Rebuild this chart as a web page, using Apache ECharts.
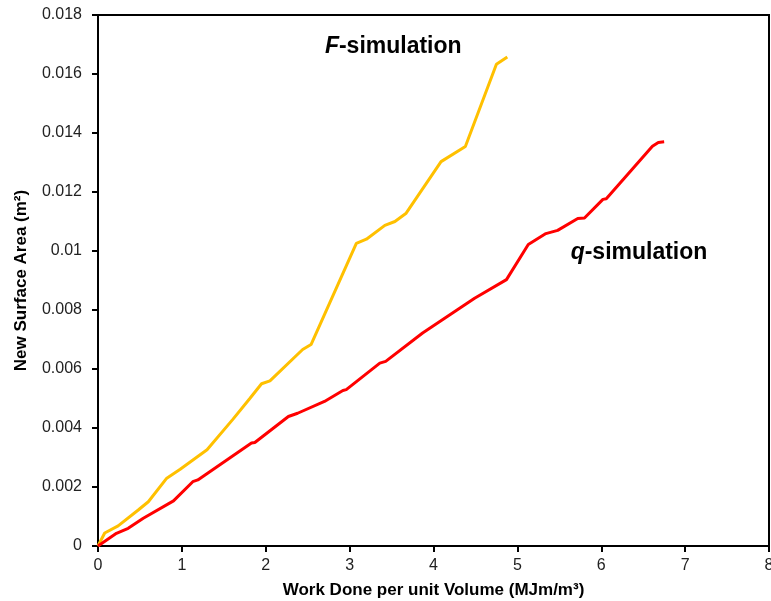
<!DOCTYPE html>
<html>
<head>
<meta charset="utf-8">
<script src="https://cdn.jsdelivr.net/npm/echarts@6/dist/echarts.min.js"></script>
<style>html,body{margin:0;padding:0;background:#fff}#c{width:771px;height:601px}</style>
</head>
<body>
<div id="c"></div>
<script>
const fX = [0, 0.08, 0.24, 0.48, 0.6, 0.82, 0.98, 1.3, 1.61, 1.81, 1.95, 2.05, 2.44, 2.54, 3.08, 3.2, 3.42, 3.54, 3.67, 4.09, 4.38, 4.75, 4.88];
const fY = [0, 0.00044, 0.00068, 0.00122, 0.0015, 0.0023, 0.0026, 0.00326, 0.0043, 0.005, 0.0055, 0.0056, 0.00666, 0.00683, 0.01026, 0.0104, 0.01087, 0.0110, 0.01127, 0.01303, 0.01354, 0.01633, 0.01658];
const qX = [0, 0.22, 0.36, 0.54, 0.9, 1.13, 1.19, 1.83, 1.87, 2.27, 2.38, 2.7, 2.92, 2.96, 3.36, 3.43, 3.87, 4.49, 4.87, 5.13, 5.34, 5.48, 5.72, 5.8, 6.02, 6.06, 6.61, 6.68, 6.75];
const qY = [0, 0.00043, 0.0006, 0.00094, 0.00153, 0.00218, 0.00224, 0.00349, 0.00351, 0.00439, 0.0045, 0.0049, 0.00527, 0.0053, 0.0062, 0.00626, 0.00722, 0.0084, 0.00903, 0.01022, 0.01059, 0.0107, 0.0111, 0.01112, 0.01175, 0.01177, 0.01355, 0.01368, 0.0137];
const xTicks = [0, 1, 2, 3, 4, 5, 6, 7, 8];
const yTicks = [0, 0.002, 0.004, 0.006, 0.008, 0.01, 0.012, 0.014, 0.016, 0.018];
const annotations = [
  {x: 3.52, y: 0.01691, ital: 'F', rest: '-simulation'},
  {x: 6.45, y: 0.00995, ital: 'q', rest: '-simulation'}
];

const chart = echarts.init(document.getElementById('c'));
const font = 'Liberation Sans, Arial, sans-serif';
const axisLine = {show: true, lineStyle: {color: '#000', width: 2}};
chart.setOption({
  animation: false,
  grid: {left: 98, right: 2, top: 15, bottom: 55, outerBoundsMode: 'none', containLabel: false, show: true, borderColor: '#000', borderWidth: 2, backgroundColor: 'transparent'},
  xAxis: {
    type: 'value', min: 0, max: 8, interval: 1,
    axisLine: axisLine,
    axisTick: {show: true, length: 6, lineStyle: {color: '#000', width: 2}},
    axisLabel: {color: '#222', fontFamily: font, fontSize: 16, margin: 12, formatter: v => xTicks.includes(v) ? String(v) : ''},
    splitLine: {show: false},
    name: 'Work Done per unit Volume (MJm/m³)', nameLocation: 'middle', nameGap: 36,
    nameTextStyle: {fontFamily: font, fontWeight: 'bold', fontSize: 17, color: '#000'}
  },
  yAxis: {
    type: 'value', min: 0, max: 0.018, interval: 0.002,
    axisLine: axisLine,
    axisTick: {show: true, length: 6, lineStyle: {color: '#000', width: 2}},
    axisLabel: {color: '#222', fontFamily: font, fontSize: 16, margin: 16, formatter: v => { const t = yTicks.find(k => Math.abs(k - v) < 1e-9); return t === undefined ? '' : String(t); }},
    splitLine: {show: false},
    name: 'New Surface Area (m²)', nameLocation: 'middle', nameGap: 68,
    nameTextStyle: {fontFamily: font, fontWeight: 'bold', fontSize: 17, color: '#000'}
  },
  series: [
    {type: 'line', data: fX.map((x, i) => [x, fY[i]]), showSymbol: false, symbol: 'none', lineStyle: {color: '#FFC000', width: 3}, itemStyle: {color: '#FFC000'}, z: 3},
    {type: 'line', data: qX.map((x, i) => [x, qY[i]]), showSymbol: false, symbol: 'none', lineStyle: {color: '#FF0000', width: 3}, itemStyle: {color: '#FF0000'}, z: 3}
  ]
});
const g = annotations.map(a => {
  const p = chart.convertToPixel({gridIndex: 0}, [a.x, a.y]);
  return {
    type: 'text', x: p[0], y: p[1],
    style: {
      text: '{i|' + a.ital + '}{b|' + a.rest + '}',
      align: 'center', verticalAlign: 'middle',
      rich: {
        i: {fontFamily: font, fontWeight: 'bold', fontStyle: 'italic', fontSize: 23, fill: '#000'},
        b: {fontFamily: font, fontWeight: 'bold', fontSize: 23, fill: '#000'}
      }
    }
  };
});
chart.setOption({graphic: g});
</script>
</body>
</html>
